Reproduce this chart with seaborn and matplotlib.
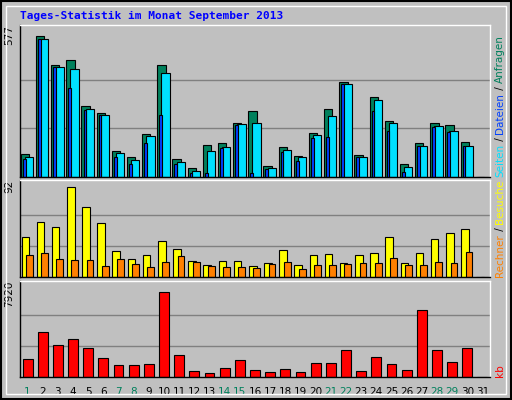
import numpy as np
import seaborn as sns
import matplotlib.pyplot as plt

days = np.arange(1, 32)
day_labels = [str(d) for d in days]
weekend = [1, 7, 8, 14, 15, 21, 22, 28, 29]

# September 2013 (day 31 has no data)
hits = [92, 556, 442, 462, 280, 254, 103, 78, 171, 442, 73, 35, 126, 133, 212,
        261, 44, 118, 84, 175, 269, 375, 88, 314, 220, 50, 133, 212, 204, 137, 0]
files = [80, 544, 435, 427, 269, 243, 96, 69, 163, 412, 58, 24, 103, 118, 209,
         212, 35, 107, 77, 167, 239, 367, 80, 303, 212, 39, 122, 201, 182, 122, 0]
pages = [73, 544, 435, 352, 265, 246, 77, 50, 133, 246, 50, 16, 16, 115, 205,
         16, 31, 99, 62, 152, 156, 367, 77, 261, 182, 20, 122, 198, 179, 122, 0]
visits = [39, 54, 49, 89, 69, 53, 26, 18, 22, 36, 28, 16, 12, 16, 16,
          11, 14, 27, 12, 22, 23, 14, 22, 24, 39, 14, 24, 37, 43, 47, 0]
sites = [22, 24, 18, 17, 17, 11, 18, 13, 10, 15, 21, 15, 11, 10, 10,
         9, 13, 15, 8, 12, 12, 13, 14, 14, 19, 12, 12, 15, 14, 25, 0]
kbytes = [1547, 3867, 2747, 3227, 2507, 1627, 987, 987, 1147, 7307, 1867, 507, 347, 747, 1467,
          587, 427, 667, 427, 1227, 1227, 2347, 507, 1707, 1147, 587, 5787, 2347, 1307, 2507, 0]

max_hits, max_visits, max_kb = 577, 92, 7920

sns.set_style("white")
plt.rcParams['font.family'] = ['DejaVu Sans']
bg = '#c0c0c0'

fig = plt.figure(figsize=(5.12, 4.0), dpi=100, facecolor=bg)
W, H = 512, 400


def panel(top, bottom):
    return fig.add_axes([20 / W, 1 - bottom / H, 470 / W, (bottom - top) / H], facecolor=bg)


ax1 = panel(25, 177)
ax2 = panel(180, 277)
ax3 = panel(281, 377)

kw = dict(edgecolor='black', linewidth=0.8)
ax1.bar(days - 0.17, hits, width=0.55, color='#00805c', **kw)
ax1.bar(days + 0.1, files, width=0.55, color='#00e0ff', **kw)
ax1.bar(days - 0.22, pages, width=0.18, color='#0040ff', **kw)
ax2.bar(days - 0.15, visits, width=0.5, color='#ffff00', **kw)
ax2.bar(days + 0.12, sites, width=0.45, color='#ff8000', **kw)
ax3.bar(days, kbytes, width=0.65, color='#ff0000', **kw)

for ax, top, lab in [(ax1, max_hits, '577'), (ax2, max_visits, '92'), (ax3, max_kb, '7920')]:
    ax.set_xlim(0.5, 31.5)
    ax.set_ylim(0, top * 1.04)
    for f in (1 / 3, 2 / 3):
        ax.axhline(top * f, color='#808080', linewidth=1, zorder=0)
    ax.set_yticks([])
    ax.set_xticks([])
    for s in ax.spines.values():
        s.set_color('black')
        s.set_linewidth(1)
    ax.spines['right'].set_color('white')
    ax.spines['top'].set_color('white')
    ax.text(-0.012, 1.0, lab, transform=ax.transAxes, rotation=90, ha='right', va='top',
            fontsize=7.5, color='black')

for d, lab in zip(days, day_labels):
    ax3.text(d, -0.1, lab, transform=ax3.get_xaxis_transform(), ha='center', va='top',
             fontsize=7.5, color='#00805c' if d in weekend else 'black')

fig.text(20 / W, 1 - 16 / H, 'Tages-Statistik im Monat September 2013', color='#0000ff',
         fontsize=8, fontweight='bold', family='DejaVu Sans Mono', va='center')

renderer = fig.canvas.get_renderer()


def side_label(parts, bottom_px):
    y = 1 - bottom_px / H
    for txt, col in parts:
        t = fig.text(500 / W, y, txt, color=col, rotation=90, fontsize=7.5,
                     ha='center', va='bottom')
        ext = t.get_window_extent(renderer)
        y += ext.height / H


side_label([('Seiten', '#00e0ff'), (' / ', 'black'), ('Dateien', '#0040ff'),
            (' / ', 'black'), ('Anfragen', '#00805c')], 177)
side_label([('Rechner', '#ff8000'), (' / ', 'black'), ('Besuche', '#ffff00')], 277)
side_label([('kb', '#ff0000')], 377)

# outer frame
fig.patches.append(plt.Rectangle((1 / W, 1 / H), 1 - 2 / W, 1 - 2 / H, transform=fig.transFigure,
                                 fill=False, edgecolor='black', linewidth=1.5))
fig.patches.append(plt.Rectangle((6 / W, 6 / H), 1 - 12 / W, 1 - 12 / H, transform=fig.transFigure,
                                 fill=False, edgecolor='white', linewidth=1))

fig.savefig('out.png', dpi=100, facecolor=bg)
